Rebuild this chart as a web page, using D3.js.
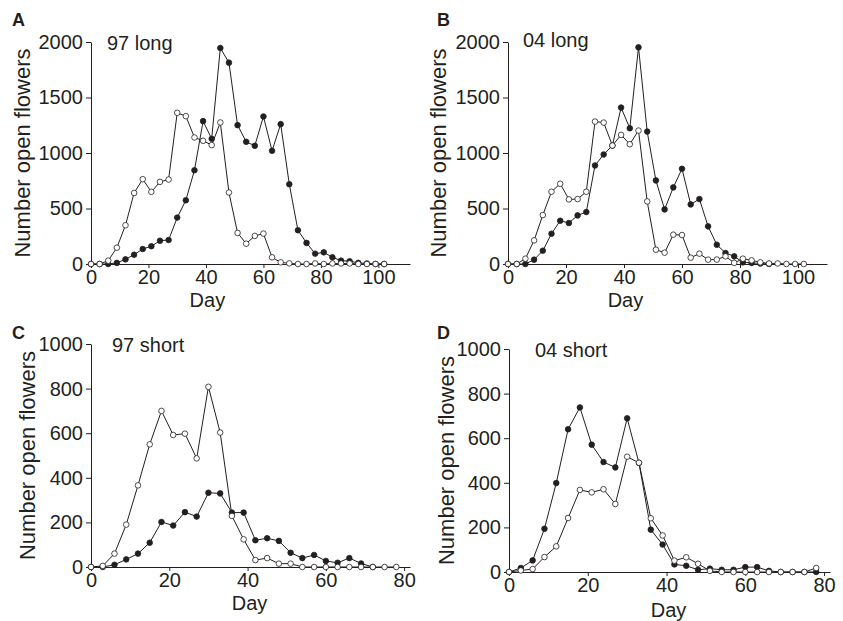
<!DOCTYPE html>
<html>
<head>
<meta charset="utf-8">
<script src="https://cdnjs.cloudflare.com/ajax/libs/d3/7.8.5/d3.min.js"></script>
<style>
  body { margin: 0; background: #fff; }
  svg { display: block; font-family: "Liberation Sans", Arial, sans-serif; }
  .axis path, .axis line { stroke: #231f20; stroke-width: 1; }
  .axis text { fill: #231f20; font-size: 20px; font-family: "Liberation Sans", Arial, sans-serif; }
</style>
</head>
<body>
<script>
// sampling day, every 3 days
var daysLong = d3.range(0, 103, 3);   // 0..102
var daysShort = d3.range(0, 79, 3);   // 0..78

// A: 97 long
var a97Open = [0,0,30,147,349,640,764,650,740,761,1362,1332,1140,1110,1071,1275,644,280,183,253,274,60,15,6,0,0,5,0,5,5,5,0,0,0,0];
var a97Filled = [0,0,0,10,42,84,135,160,210,216,418,574,845,1287,1128,1946,1814,1251,1101,1065,1329,1020,1260,719,304,190,93,105,60,30,25,10,5,0,0];

// B: 04 long
var b04Open = [0,0,48,213,441,651,723,582,585,651,1283,1274,1067,1163,1079,1202,564,129,102,264,261,57,93,39,40,69,10,48,33,15,5,5,0,0,0];
var b04Filled = [0,0,0,39,120,273,390,369,438,468,888,987,1067,1409,1223,1952,1193,753,492,690,858,537,585,339,174,99,69,15,10,5,0];

// C: 97 short
var c97Open = [0,5,60,190,366,550,700,592,598,487,808,603,229,124,31,40,15,15,0,0,0,0,0,0,0,0,0];
var c97Filled = [0,0,10,34,60,109,202,186,246,226,333,330,244,244,120,129,117,64,40,54,27,19,40,16,0];

// D: 04 short
var d04Open = [0,7,13,67,115,242,368,357,371,305,517,490,241,164,51,66,37,5,0,0,0,0,0,0,0,0,18];
var d04Filled = [0,18,52,194,399,640,738,571,493,469,689,489,190,123,34,28,10,15,10,10,22,22,5,0,0,0,0];

var longTicks = [0, 20, 40, 60, 80, 100];
var shortTicks = [0, 20, 40, 60, 80];
var longYTicks = [0, 500, 1000, 1500, 2000];
var shortYTicks = [0, 200, 400, 600, 800, 1000];

var ink = "#231f20";

var svg = d3.select("body").append("svg")
    .attr("width", 843)
    .attr("height", 621);

var panels = [
  { letter: "A", title: "97 long", days: daysLong, open: a97Open, filled: a97Filled,
    xMax: 111, yMax: 2000, xTicks: longTicks, yTicks: longYTicks,
    x0: 91, x1: 410, y0: 264, y1: 42, letterPos: [12, 26], titlePos: [107, 50], ylabX: 30, dayY: 307 },
  { letter: "B", title: "04 long", days: daysLong, open: b04Open, filled: b04Filled,
    xMax: 110, yMax: 2000, xTicks: longTicks, yTicks: longYTicks,
    x0: 508, x1: 827, y0: 264, y1: 42, letterPos: [437, 26], titlePos: [523, 47], ylabX: 446, dayY: 307 },
  { letter: "C", title: "97 short", days: daysShort, open: c97Open, filled: c97Filled,
    xMax: 81.5, yMax: 1000, xTicks: shortTicks, yTicks: shortYTicks,
    x0: 91, x1: 410, y0: 567, y1: 344, letterPos: [12, 339], titlePos: [112, 352], ylabX: 35, dayY: 609.5 },
  { letter: "D", title: "04 short", days: daysShort, open: d04Open, filled: d04Filled,
    xMax: 81.5, yMax: 1000, xTicks: shortTicks, yTicks: shortYTicks,
    x0: 509, x1: 830, y0: 572, y1: 349, letterPos: [437, 339], titlePos: [535, 357], ylabX: 454, dayY: 617 }
];

panels.forEach(drawPanel);

function drawPanel(p) {
    var x = d3.scaleLinear().domain([0, p.xMax]).range([p.x0, p.x1]);
    var y = d3.scaleLinear().domain([0, p.yMax]).range([p.y0, p.y1]);
    var g = svg.append("g");

    g.append("g")
        .attr("class", "axis")
        .attr("transform", "translate(0," + p.y0 + ")")
        .call(d3.axisBottom(x).tickValues(p.xTicks).tickFormat(d3.format("d"))
            .tickSize(4).tickSizeOuter(0).tickPadding(2));

    g.append("g")
        .attr("class", "axis")
        .attr("transform", "translate(" + p.x0 + ",0)")
        .call(d3.axisLeft(y).tickValues(p.yTicks).tickFormat(d3.format("d"))
            .tickSize(5).tickSizeOuter(0).tickPadding(3));

    g.selectAll(".axis .domain").attr("fill", "none");

    var line = d3.line()
        .x(function (d) { return x(d.day); })
        .y(function (d) { return y(d.v); });

    var filled = p.filled.map(function (v, i) { return { day: p.days[i], v: v }; });
    var open = p.open.map(function (v, i) { return { day: p.days[i], v: v }; });

    g.append("path").datum(filled)
        .attr("d", line).attr("fill", "none").attr("stroke", ink).attr("stroke-width", 1);
    g.append("path").datum(open)
        .attr("d", line).attr("fill", "none").attr("stroke", ink).attr("stroke-width", 1);

    g.append("g").selectAll("circle")
        .data(filled)
        .enter().append("circle")
        .attr("cx", function (d) { return x(d.day); })
        .attr("cy", function (d) { return y(d.v); })
        .attr("r", 2.8)
        .attr("fill", ink)
        .attr("stroke", ink)
        .attr("stroke-width", 0.8);

    g.append("g").selectAll("circle")
        .data(open)
        .enter().append("circle")
        .attr("cx", function (d) { return x(d.day); })
        .attr("cy", function (d) { return y(d.v); })
        .attr("r", 2.8)
        .attr("fill", "#fff")
        .attr("stroke", ink)
        .attr("stroke-width", 0.8);

    // labels
    g.append("text")
        .attr("x", p.letterPos[0]).attr("y", p.letterPos[1])
        .attr("font-size", 18).attr("font-weight", "bold").attr("fill", ink)
        .text(p.letter);

    g.append("text")
        .attr("x", p.titlePos[0]).attr("y", p.titlePos[1])
        .attr("font-size", 20).attr("fill", ink)
        .text(p.title);

    g.append("text")
        .attr("transform", "translate(" + p.ylabX + "," + ((p.y0 + p.y1) / 2) + ") rotate(-90)")
        .attr("text-anchor", "middle")
        .attr("font-size", 22).attr("fill", ink)
        .text("Number open flowers");

    g.append("text")
        .attr("x", x(40.5)).attr("y", p.dayY)
        .attr("text-anchor", "middle")
        .attr("font-size", 20).attr("fill", ink)
        .text("Day");
}
</script>
</body>
</html>
